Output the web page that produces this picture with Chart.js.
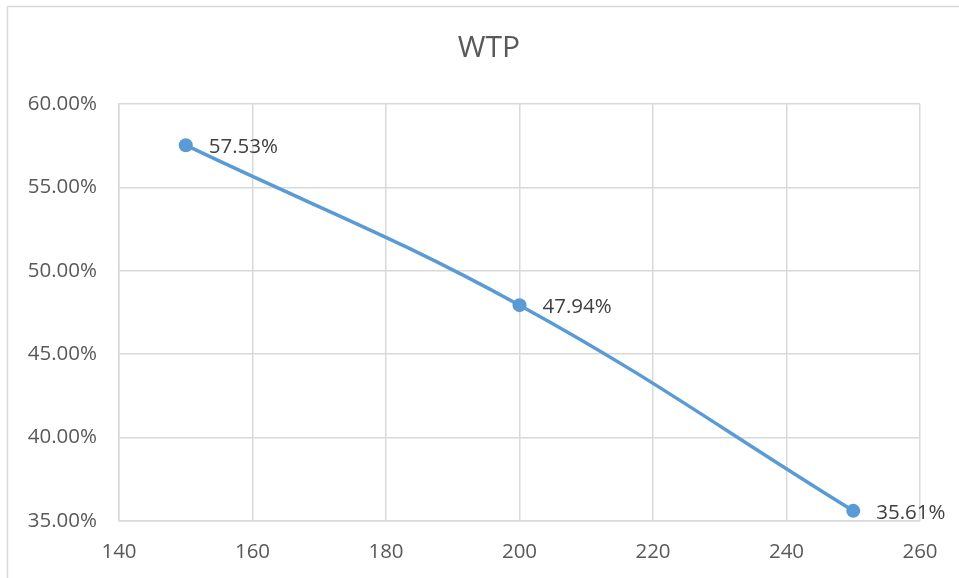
<!DOCTYPE html>
<html>
<head>
<meta charset="utf-8">
<script src="https://cdn.jsdelivr.net/npm/chart.js@4/dist/chart.umd.min.js"></script>
<style>
  html, body { margin: 0; padding: 0; background: #fff; }
  #wrap { width: 959px; height: 578px; position: relative; }
</style>
</head>
<body>
<div id="wrap"><canvas id="c" width="959" height="578"></canvas></div>
<script>
// Price points and the share willing to pay (%)
const prices = [150, 200, 250];
const wtpShare = [57.53, 47.94, 35.61];
const xTicks = [140, 160, 180, 200, 220, 240, 260];
const yTicks = [35, 40, 45, 50, 55, 60];
const chartTitle = 'WTP';

const FONT = "'Open Sans', 'Liberation Sans', sans-serif";
const TEXT = '#595959';
const GRID = '#D9D9D9';
const LINE = '#5B9BD5';

const points = prices.map((p, i) => ({ x: p, y: wtpShare[i] }));

// Outer frame and title
const framePlugin = {
  id: 'frame',
  beforeDraw(chart) {
    const ctx = chart.ctx;
    ctx.save();
    ctx.fillStyle = '#fff';
    ctx.fillRect(0, 0, chart.width, chart.height);
    ctx.strokeStyle = GRID;
    ctx.lineWidth = 1.5;
    ctx.strokeRect(7.5, 6.5, 1200, 1200);
    ctx.restore();
  },
  afterDraw(chart) {
    const ctx = chart.ctx;
    ctx.save();
    ctx.fillStyle = TEXT;
    ctx.font = "30px " + FONT;
    ctx.textAlign = 'center';
    ctx.textBaseline = 'middle';
    ctx.fillText(chartTitle, 489, 48);
    ctx.restore();
  }
};

// Value labels to the right of each point
const valueLabels = {
  id: 'valueLabels',
  afterDatasetsDraw(chart) {
    const ctx = chart.ctx;
    const meta = chart.getDatasetMeta(0);
    ctx.save();
    ctx.fillStyle = '#404040';
    ctx.font = "20.5px " + FONT;
    ctx.textAlign = 'left';
    ctx.textBaseline = 'middle';
    meta.data.forEach((el, i) => {
      ctx.fillText(wtpShare[i].toFixed(2) + '%', el.x + 23, el.y + 2);
    });
    ctx.restore();
  }
};

new Chart(document.getElementById('c'), {
  type: 'scatter',
  data: {
    datasets: [{
      data: points,
      showLine: true,
      borderColor: LINE,
      backgroundColor: LINE,
      borderWidth: 3.5,
      pointRadius: 7,
      pointHoverRadius: 7,
      pointBorderWidth: 0,
      tension: 0.4
    }]
  },
  options: {
    responsive: false,
    animation: false,
    events: [],
    layout: { padding: { top: 104, right: 39, left: 0, bottom: 0 } },
    plugins: {
      legend: { display: false },
      tooltip: { enabled: false },
      title: { display: false }
    },
    scales: {
      x: {
        type: 'linear',
        min: xTicks[0],
        max: xTicks[xTicks.length - 1],
        afterBuildTicks(scale) { scale.ticks = xTicks.map(v => ({ value: v })); },
        afterFit(scale) { scale.height = 57; },
        grid: { color: GRID, lineWidth: 1.5, drawTicks: false },
        border: { color: GRID, width: 1.5 },
        ticks: {
          color: TEXT,
          font: { family: FONT, size: 20.5 },
          padding: 19,
          maxRotation: 0,
          callback: v => String(v)
        }
      },
      y: {
        type: 'linear',
        min: yTicks[0],
        max: yTicks[yTicks.length - 1],
        afterBuildTicks(scale) { scale.ticks = yTicks.map(v => ({ value: v })); },
        afterFit(scale) { scale.width = 119; },
        grid: { color: GRID, lineWidth: 1.5, drawTicks: false },
        border: { color: GRID, width: 1.5 },
        ticks: {
          color: TEXT,
          font: { family: FONT, size: 20.5 },
          padding: 22,
          callback: v => Number(v).toFixed(2) + '%'
        }
      }
    }
  },
  plugins: [framePlugin, valueLabels]
});
</script>
</body>
</html>
